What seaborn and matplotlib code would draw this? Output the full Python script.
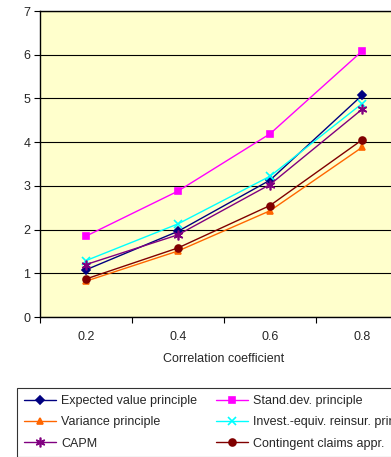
import matplotlib
matplotlib.use("Agg")
import matplotlib.pyplot as plt
import seaborn as sns
import pandas as pd
import numpy as np

categories = ["0.2", "0.4", "0.6", "0.8"]
expected_value = [1.08, 1.96, 3.13, 5.07]
stand_dev = [1.85, 2.88, 4.19, 6.08]
variance = [0.82, 1.51, 2.43, 3.88]
invest_equiv = [1.29, 2.13, 3.22, 4.88]
capm = [1.20, 1.88, 3.03, 4.75]
contingent = [0.87, 1.58, 2.55, 4.05]

series_names = ["Expected value principle", "Stand.dev. principle",
                "Variance principle", "Invest.-equiv. reinsur. principle",
                "CAPM", "Contingent claims appr."]
series_values = [expected_value, stand_dev, variance, invest_equiv, capm, contingent]
colors = ["#000080", "#FF00FF", "#FF6600", "#00FFFF", "#800080", "#800000"]
markers = ["D", "s", "^", "x", (6, 2, 0), "o"]
msizes = [4, 5, 5, 6, 7, 5]

sns.set_theme(style="white")
plt.rcParams["font.family"] = ["Liberation Sans", "DejaVu Sans"]

fig = plt.figure(figsize=(3.91, 4.57), dpi=100)
fig.patch.set_facecolor("white")
W, H = 391, 457
left, right, top, bottom = 40, 408, 11, 317
ax = fig.add_axes([left / W, 1 - bottom / H, (right - left) / W, (bottom - top) / H])
ax.set_facecolor("#FFFFCC")

for name, vals, c, m, ms in zip(series_names, series_values, colors, markers, msizes):
    df = pd.DataFrame({"x": categories, "y": vals})
    sns.lineplot(data=df, x="x", y="y", ax=ax, color=c, marker=m, markersize=ms,
                 markeredgecolor=c, markerfacecolor=c, markeredgewidth=1.2,
                 linewidth=1.0, label=name, sort=False)

ax.set_xlim(-0.5, 3.5)
ax.set_ylim(0, 7)
ax.set_yticks(range(0, 8))
ax.yaxis.grid(True, color="black", linewidth=0.8)
ax.xaxis.grid(False)
ax.set_axisbelow(True)
ax.set_xticks(range(len(categories)))
ax.set_xticklabels(categories)
ax.set_xticks(np.arange(-0.5, 4.0, 1.0), minor=True)
ax.tick_params(axis="x", which="major", length=0, pad=10, labelsize=9)
ax.tick_params(axis="x", which="minor", length=4, width=0.8, color="black", direction="out", bottom=True)
ax.tick_params(axis="y", which="major", length=4, width=0.8, color="black", direction="out", left=True, labelsize=9, pad=3)
for s in ax.spines.values():
    s.set_color("black")
    s.set_linewidth(1.0)
ax.set_xlabel("Correlation coefficient", fontsize=9, labelpad=7)
ax.set_ylabel("")

handles, labels = ax.get_legend_handles_labels()
if ax.legend_:
    ax.legend_.remove()
order = [0, 2, 4, 1, 3, 5]
leg = fig.legend([handles[i] for i in order], [labels[i] for i in order],
                 loc="upper left", bbox_to_anchor=(17 / W, 1 - 388 / H), ncol=2,
                 fontsize=9, frameon=True, fancybox=False, handlelength=2.6,
                 handletextpad=0.4, columnspacing=1.45, labelspacing=0.75,
                 borderpad=0.55, borderaxespad=0)
leg.get_frame().set_edgecolor("black")
leg.get_frame().set_linewidth(0.8)

fig.savefig("out.png", dpi=100)
